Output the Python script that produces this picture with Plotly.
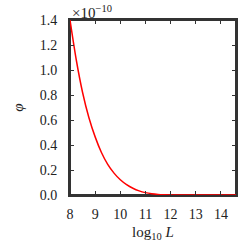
import plotly.graph_objects as go

log10_L = [8.0, 8.25, 8.5, 8.75, 9.0, 9.25, 9.5, 9.75, 10.0, 10.25, 10.5, 10.75,
           11.0, 11.25, 11.5, 11.75, 12.0, 12.5, 13.0, 13.5, 14.0, 14.6]
phi_e10 = [1.40, 1.08, 0.82, 0.62, 0.465, 0.34, 0.245, 0.175, 0.122, 0.083, 0.054, 0.033,
           0.019, 0.010, 0.0045, 0.0018, 0.0006, 0.0001, 0.0, 0.0, 0.0, 0.0]
x_ticks = [8, 9, 10, 11, 12, 13, 14]
y_ticks = [0.0, 0.2, 0.4, 0.6, 0.8, 1.0, 1.2, 1.4]

font_family = "Liberation Serif, DejaVu Serif, serif"
axis_col = "#333333"

fig = go.Figure()
fig.add_trace(go.Scatter(x=log10_L, y=phi_e10, mode="lines",
                         line=dict(color="red", width=1.5, shape="spline", smoothing=0.8),
                         showlegend=False, cliponaxis=False))

common = dict(showgrid=False, zeroline=False, showline=True, linecolor=axis_col,
              linewidth=2, mirror="allticks", ticks="inside", ticklen=4, tickwidth=1,
              tickcolor="#333333", tickfont=dict(family=font_family, size=14, color="#222"))

fig.update_xaxes(range=[8, 14.6], tickvals=x_ticks, ticktext=[str(t) for t in x_ticks],
                 ticklabelstandoff=5,
                 title=dict(text="log<sub>10</sub> <i>L</i>", standoff=6,
                            font=dict(family=font_family, size=15, color="#222")),
                 **common)
fig.update_yaxes(range=[0, 1.4], tickvals=y_ticks, tickformat=".1f",
                 ticklabelstandoff=8,
                 title=dict(text="<i>φ</i>", standoff=12,
                            font=dict(family=font_family, size=15, color="#222")),
                 **common)

fig.add_shape(type="rect", xref="paper", yref="paper", x0=0, y0=0, x1=1, y1=1,
              line=dict(color=axis_col, width=2), fillcolor="rgba(0,0,0,0)", layer="below")

fig.add_annotation(text="×10<sup>−10</sup>", xref="paper", yref="paper", x=0, y=1,
                   xanchor="left", yanchor="bottom", showarrow=False, yshift=-3,
                   font=dict(family=font_family, size=15, color="#222"))

fig.update_layout(width=250, height=250, margin=dict(l=70, r=12, t=20, b=50),
                  plot_bgcolor="white", paper_bgcolor="white")

fig.write_html("out.html", config={"displayModeBar": False},
               post_script="document.body.style.margin='0';document.body.style.overflow='hidden';")
